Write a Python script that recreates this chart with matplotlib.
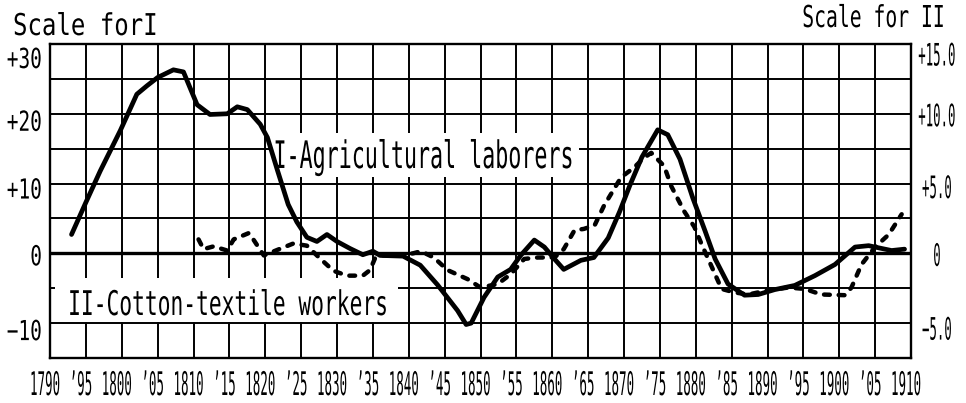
import matplotlib
matplotlib.use("Agg")
import matplotlib.pyplot as plt
from matplotlib.patheffects import AbstractPathEffect
from matplotlib.transforms import Affine2D, blended_transform_factory, ScaledTranslation
from matplotlib.patches import Rectangle

# ---------------- data ----------------
years_I = [1793.0, 1795.0, 1797.0, 1799.8, 1802.1, 1803.5, 1805.0, 1807.2, 1808.6, 1810.5,
           1812.3, 1814.7, 1816.1, 1817.5, 1819.3, 1820.3, 1821.7, 1823.2, 1824.4, 1825.8,
           1827.2, 1828.6, 1830.0, 1831.8, 1833.6, 1835.0, 1836.0, 1839.2, 1841.6, 1844.0,
           1846.8, 1848.0, 1848.7, 1850.5, 1852.4, 1854.2, 1855.6, 1857.5, 1858.9, 1860.3,
           1861.6, 1864.0, 1865.8, 1867.8, 1869.4, 1870.8, 1872.5, 1874.7, 1876.1, 1877.8,
           1879.6, 1881.3, 1882.7, 1884.5, 1886.8, 1888.7, 1891.0, 1893.8, 1896.6, 1899.4,
           1902.2, 1904.1, 1905.9, 1907.3, 1909.1]
agri_I = [2.7, 7.3, 11.8, 17.6, 22.8, 24.0, 25.2, 26.3, 26.0, 21.3,
          19.9, 20.0, 21.0, 20.6, 18.5, 16.6, 11.9, 7.0, 4.5, 2.3,
          1.7, 2.7, 1.7, 0.7, -0.2, 0.3, -0.3, -0.4, -1.7, -4.5,
          -8.2, -10.2, -10.0, -6.3, -3.4, -2.3, -0.3, 1.9, 0.9, -0.8,
          -2.3, -1.0, -0.6, 2.2, 6.0, 9.7, 13.8, 17.7, 17.0, 13.5,
          7.9, 3.2, -0.8, -4.4, -6.0, -5.9, -5.2, -4.6, -3.2, -1.6,
          0.9, 1.1, 0.7, 0.4, 0.6]

years_II = [1810.7, 1811.4, 1812.8, 1814.7, 1815.6, 1817.7, 1818.4, 1819.8, 1821.7, 1823.9,
            1825.8, 1827.6, 1829.5, 1831.4, 1833.6, 1834.6, 1835.3, 1836.0, 1838.4, 1840.6,
            1841.7, 1843.5, 1845.4, 1848.2, 1850.0, 1852.4, 1854.2, 1856.1, 1858.0, 1860.3,
            1861.6, 1863.1, 1864.4, 1865.9, 1867.2, 1868.6, 1869.6, 1871.4, 1872.8, 1873.8,
            1875.6, 1876.6, 1878.4, 1879.8, 1880.9, 1882.3, 1883.6, 1885.4, 1887.3, 1890.1,
            1892.9, 1895.2, 1897.5, 1900.8, 1901.7, 1903.1, 1905.0, 1906.9, 1908.7]
cotton_II = [1.0, 0.3, 0.5, 0.2, 1.0, 1.45, 0.95, -0.15, 0.25, 0.7,
             0.55, -0.35, -1.25, -1.6, -1.6, -1.2, -0.35, -0.15, -0.15, 0.0,
             0.15, -0.3, -1.2, -1.85, -2.45, -2.2, -1.5, -0.4, -0.3, -0.3,
             0.3, 1.65, 1.75, 2.0, 3.4, 4.6, 5.45, 6.15, 6.85, 7.2,
             6.25, 4.8, 3.0, 1.9, 0.55, -1.05, -2.55, -2.8, -2.95, -2.65,
             -2.45, -2.55, -2.95, -3.0, -2.45, -0.8, 0.45, 1.35, 2.8]

x_ticks = list(range(1790, 1911, 5))
x_labels = ["1790", "\u201995", "1800", "\u201905", "1810", "\u201915", "1820", "\u201925",
            "1830", "\u201935", "1840", "\u201945", "1850", "\u201955", "1860", "\u201965",
            "1870", "\u201975", "1880", "\u201985", "1890", "\u201995", "1900", "\u201905", "1910"]
left_ticks = [30, 20, 10, 0, -10]
left_labels = ["+30", "+20", "+10", "0", "\u221210"]
right_ticks = [15, 10, 5, 0, -5]
right_labels = ["+15.0", "+10.0", "+5.0", "0", "\u22125.0"]

title_left = "Scale forI"
title_right = "Scale for II"
label_I = "I-Agricultural laborers"
label_II = "II-Cotton-textile workers"

# ---------------- style helpers ----------------
W, H = 966, 403
FONT = "DejaVu Sans Mono"


class Stretch(AbstractPathEffect):
    """Draw text glyphs stretched vertically about the baseline (tall hand lettering)."""

    def __init__(self, sy=1.0):
        super().__init__()
        self.sy = sy

    def draw_path(self, renderer, gc, tpath, affine, rgbFace=None):
        t = Affine2D().scale(1.0, self.sy)
        renderer.draw_path(gc, tpath, t + affine, rgbFace)


fig = plt.figure(figsize=(W / 100, H / 100), dpi=100)
fig.patch.set_facecolor("white")

ax_l, ax_r, ax_t, ax_b = 50, 911, 44, 358
ax = fig.add_axes([ax_l / W, 1 - ax_b / H, (ax_r - ax_l) / W, (ax_b - ax_t) / H])
ax.set_xlim(1790, 1910)
ax.set_ylim(-15, 30)
ax.set_xticks(x_ticks)
ax.set_yticks(list(range(-15, 31, 5)))
ax.tick_params(length=0, labelbottom=False, labelleft=False)
ax.set_axisbelow(True)
ax.grid(True, color="black", lw=1.4)
for sp in ax.spines.values():
    sp.set_linewidth(1.7)
    sp.set_color("black")
ax.axhline(0, color="black", lw=2.4, zorder=0.6)

ax2 = ax.twinx()
ax2.set_ylim(-7.5, 15)
ax2.set_yticks([])
for sp in ax2.spines.values():
    sp.set_visible(False)

# white boxes behind the series labels (grid interrupted)
for (x0, y0, x1, y1) in [(271, 133, 579, 177), (55, 278, 398, 322)]:
    r = Rectangle((x0 / W, 1 - y1 / H), (x1 - x0) / W, (y1 - y0) / H,
                  transform=fig.transFigure, facecolor="white", edgecolor="none", zorder=1.5)
    ax.add_artist(r)

# series
ax.plot(years_I, agri_I, color="black", lw=3.4, solid_capstyle="round",
        solid_joinstyle="round", zorder=3)
ax2.plot(years_II, cotton_II, color="black", lw=3.2, linestyle=(0, (1.3, 2.0)),
         dash_capstyle="round", zorder=3)


def ftext(x_px, base_px, s, size, sy, ha="center"):
    fig.text(x_px / W, 1 - base_px / H, s, fontsize=size, family=FONT, ha=ha,
             va="baseline", color="black", path_effects=[Stretch(sy)])


# titles
ftext(85.5, 35, title_left, 17.3, 1.25)
ftext(873.5, 27, title_right, 14.2, 1.53)

# series labels
ftext(423, 168, label_I, 15.6, 1.75)
ftext(227.5, 315, label_II, 15.3, 1.6)

# x tick labels
xt = blended_transform_factory(ax.transData, fig.transFigure) + \
    ScaledTranslation(-5 / 100, 0, fig.dpi_scale_trans)
for yr, lab in zip(x_ticks, x_labels):
    ax.text(yr, 1 - 395 / H, lab, transform=xt, fontsize=9, family=FONT, ha="center",
            va="baseline", path_effects=[Stretch(2.6)], clip_on=False)

# left y tick labels
left_nudge = [14, 7, 5, 2, 7]
for v, lab, nd in zip(left_ticks, left_labels, left_nudge):
    t = blended_transform_factory(fig.transFigure, ax.transData) + \
        ScaledTranslation(0, -(nd + 10) / 100, fig.dpi_scale_trans)
    ax.text(42 / W, v, lab, transform=t, fontsize=14, family=FONT, ha="right",
            va="baseline", path_effects=[Stretch(1.42)], clip_on=False)

# right y tick labels
right_nudge = [10, 1, 3, 1, 5]
for v, lab, nd in zip(right_ticks, right_labels, right_nudge):
    t = blended_transform_factory(fig.transFigure, ax2.transData) + \
        ScaledTranslation(0, -(nd + 11.5) / 100, fig.dpi_scale_trans)
    ax2.text(937 / W, v, lab, transform=t, fontsize=8.9, family=FONT, ha="center",
             va="baseline", path_effects=[Stretch(2.5)], clip_on=False)

fig.savefig("out.png", dpi=100, facecolor="white")
